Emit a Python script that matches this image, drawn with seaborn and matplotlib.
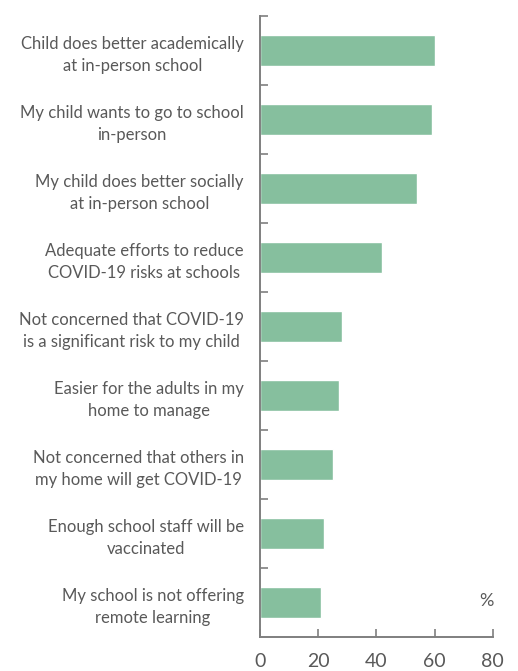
import pandas as pd
import matplotlib
matplotlib.use('Agg')
import matplotlib.pyplot as plt
import seaborn as sns

# Data
reasons = [
    'Child does better academically\nat in-person school',
    'My child wants to go to school\nin-person',
    'My child does better socially\nat in-person school',
    'Adequate efforts to reduce\nCOVID-19 risks at schools',
    'Not concerned that COVID-19\nis a significant risk to my child',
    'Easier for the adults in my\nhome to manage',
    'Not concerned that others in\nmy home will get COVID-19',
    'Enough school staff will be\nvaccinated',
    'My school is not offering\nremote learning',
]
percent = [60, 59, 54, 42, 28, 27, 25, 22, 21]
x_ticks = [0, 20, 40, 60, 80]

data = pd.DataFrame({'reason': reasons, 'percent': percent})

sns.set_style('white')
plt.rcParams['font.family'] = ['Lato', 'DejaVu Sans']

grey = '#595959'
fig = plt.figure(figsize=(5.18, 6.71), dpi=100)
ax = fig.add_axes([0.5025, 0.0511, 0.4486, 0.9255])

sns.barplot(data=data, x='percent', y='reason', color='#86BF9E',
            width=0.455, saturation=1, ax=ax)

ax.set_xlim(0, 80)
ax.set_ylim(len(reasons) - 0.5, -0.5)
ax.set_xticks(x_ticks)
ax.set_xlabel('')
ax.set_ylabel('')

# category boundary ticks on the y axis
ax.set_yticks([i - 0.5 for i in range(len(reasons))], minor=True)
ax.tick_params(axis='y', which='major', length=0, pad=12, labelsize=12, labelcolor=grey)
ax.tick_params(axis='y', which='minor', direction='in', length=6, width=1.2, color='#7f7f7f', left=True)
ax.tick_params(axis='x', direction='in', length=6, width=1.2, color='#7f7f7f',
               labelsize=14, labelcolor=grey, pad=12, bottom=True)
for lbl in ax.get_yticklabels():
    lbl.set_multialignment('center')
    lbl.set_linespacing(1.5)

for side in ['top', 'right']:
    ax.spines[side].set_visible(False)
for side in ['left', 'bottom']:
    ax.spines[side].set_color('#7f7f7f')
    ax.spines[side].set_linewidth(1.4)

ax.text(0.975, 0.045, '%', transform=ax.transAxes, ha='center', va='bottom',
        fontsize=13, color=grey)

plt.savefig('out.png', dpi=100)
